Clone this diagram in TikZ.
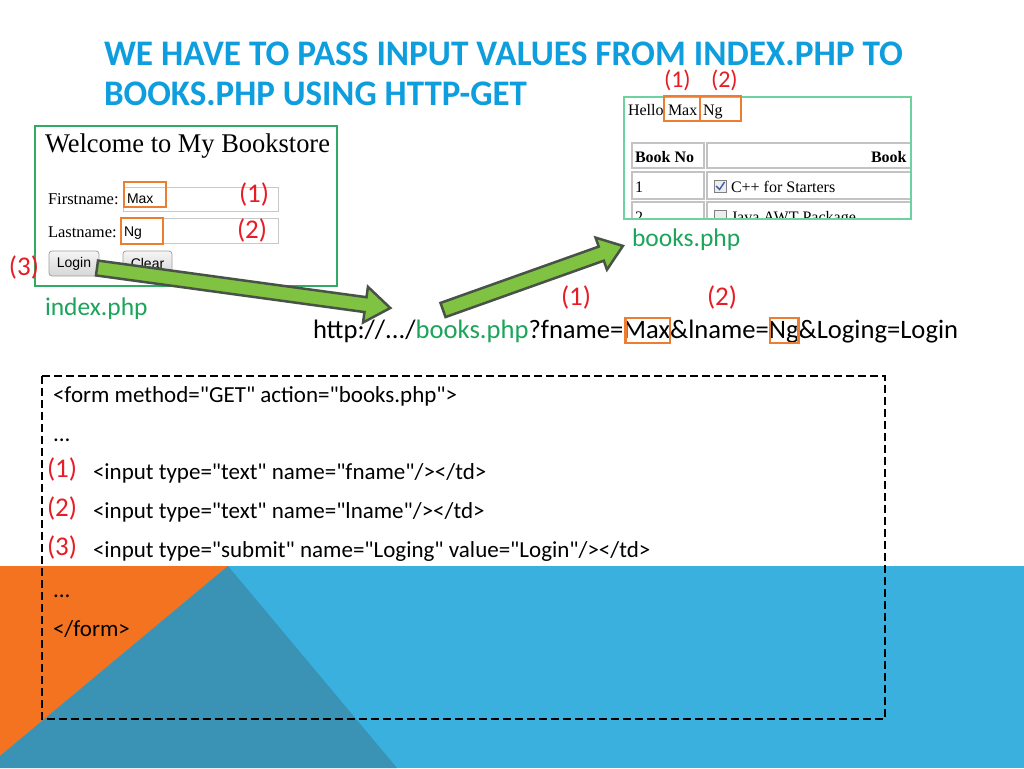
\documentclass[tikz,border=0pt]{standalone}
\usepackage{fontspec}
\setmainfont{Carlito}[Ligatures=TeXOff]
\newfontfamily\serf{Liberation Serif}
\newfontfamily\arialf{Liberation Sans}
\usepackage{graphicx}
\usetikzlibrary{calc}
\definecolor{titleblue}{RGB}{14,158,222}
\definecolor{numred}{RGB}{232,28,36}
\definecolor{hiorange}{RGB}{237,125,49}
\definecolor{filegreen}{RGB}{28,165,90}
\definecolor{scrL}{RGB}{50,170,100}
\definecolor{scrR}{RGB}{110,210,160}
\definecolor{bandblue}{RGB}{58,176,222}
\definecolor{bandorange}{RGB}{244,115,32}
\definecolor{banddark}{RGB}{58,146,180}
\definecolor{arrowfill}{RGB}{128,194,66}
\definecolor{arrowline}{RGB}{72,82,70}
\definecolor{cellgray}{RGB}{195,195,195}
\definecolor{inputgray}{RGB}{200,200,200}
\definecolor{btnline}{RGB}{160,160,160}
\definecolor{checkblue}{RGB}{60,90,170}
\tikzset{
  txt/.style={inner sep=0pt, outer sep=0pt, anchor=base west},
  titletxt/.style={txt, text=titleblue, font=\bfseries\fontsize{36}{36}\selectfont},
  code/.style={txt, font=\fontsize{23}{23}\selectfont},
  urltxt/.style={txt, font=\fontsize{26.6}{26.6}\selectfont},
  num/.style={txt, text=numred, font=\fontsize{27}{27}\selectfont},
  smallnum/.style={txt, text=numred, font=\fontsize{24}{24}\selectfont},
  file/.style={txt, text=filegreen, font=\fontsize{25.5}{25.5}\selectfont},
  sertxt/.style={txt, font=\serf\fontsize{16.5}{16.5}\selectfont},
  sanstxt/.style={txt, font=\arialf\fontsize{14}{14}\selectfont},
  hi/.style={draw=hiorange, line width=2.5pt},
  fatarrow/.style={fill=arrowfill, draw=arrowline, line width=2.5pt, line join=miter},
  cell/.style={draw=cellgray, line width=1.5pt},
  inputbox/.style={draw=inputgray, line width=1pt, fill=white},
  btn/.style={draw=btnline, rounded corners=3pt, top color=white!96!black, bottom color=white!84!black, line width=0.8pt},
  chk/.style={draw=gray, line width=0.8pt, fill=white!93!black},
}
\begin{document}
\begin{tikzpicture}[x=1pt,y=-1pt]
\useasboundingbox (0,0) rectangle (1024,768);
\fill[white] (0,0) rectangle (1024,768);
% background band
\fill[bandblue] (0,566) rectangle (1024,768);
\fill[bandorange] (0,566) -- (228,566) -- (0,756) -- cycle;
\fill[banddark] (228,566) -- (0,756) -- (0,768) -- (397,768) -- cycle;

% title
\node[titletxt] (t1) at (104,66) {\resizebox{799pt}{\height}{WE HAVE TO PASS INPUT VALUES FROM INDEX.PHP TO}};
\node[titletxt] (t2) at (104,105) {\resizebox{423pt}{\height}{BOOKS.PHP USING HTTP-GET}};

% left screenshot
\draw[scrL, line width=1.3pt] (35,126) rectangle (337,286);
\node[txt, font=\serf\fontsize{27}{27}\selectfont] (welcome) at (45,152) {\resizebox{285pt}{\height}{Welcome to My Bookstore}};
\node[sertxt] (fn) at (48,204) {Firstname:};
\node[sertxt] (ln) at (48,237) {Lastname:};
\draw[inputbox] (123,187) rectangle (278,211);
\draw[inputbox] (121,218) rectangle (278,243);
\node[sanstxt] (maxL) at (127,203) {Max};
\node[sanstxt] (ngL) at (124,236) {Ng};
\draw[hi] (124,182) rectangle (166,207);
\draw[hi] (121,218) rectangle (163,244);
\node[num] (n1L) at (239,202) {(1)};
\node[num] (n2L) at (237,238) {(2)};
\draw[btn] (49,251) rectangle (99,276);
\node[sanstxt, anchor=center] (login) at (74,263.5) {Login};
\draw[btn] (123,251) rectangle (172,276);
\node[sanstxt, anchor=center] (clear) at (147.5,263.5) {Clear};
\node[num] (n3L) at (9,275) {(3)};
\node[file] (index) at (45,315) {index.php};

% right screenshot
\begin{scope}
\clip (624,97) rectangle (911,219);
\node[sertxt, font=\serf\fontsize{16}{16}\selectfont] (hello) at (628,115) {Hello};
\node[sertxt, font=\serf\fontsize{16}{16}\selectfont] (maxR) at (668,115) {Max};
\node[sertxt, font=\serf\fontsize{16}{16}\selectfont] (ngR) at (703,115) {Ng};
\draw[cell] (632,143) rectangle (704,168);
\draw[cell] (707,143) rectangle (930,168);
\draw[cell] (632,172) rectangle (704,199);
\draw[cell] (707,172) rectangle (930,199);
\draw[cell] (632,202) rectangle (704,232);
\draw[cell] (707,202) rectangle (930,232);
\node[sertxt, font=\serf\bfseries\fontsize{16}{16}\selectfont] (bookno) at (635,162) {Book\ No};
\node[sertxt, font=\serf\bfseries\fontsize{16}{16}\selectfont] (book) at (871,162) {Book};
\node[sertxt, font=\serf\fontsize{16}{16}\selectfont] (r1) at (635,192) {1};
\draw[chk] (714,180) rectangle (726,192);
\draw[checkblue, line width=1.4pt] (716,186) -- (719.5,189.5) -- (724.5,182);
\node[sertxt, font=\serf\fontsize{16}{16}\selectfont] (c1) at (731,192) {C++ for Starters};
\node[sertxt, font=\serf\fontsize{16}{16}\selectfont] (r2) at (635,222) {2};
\draw[chk] (714,210) rectangle (726,222);
\node[sertxt, font=\serf\fontsize{16}{16}\selectfont] (c2) at (731,222) {Java AWT Package};
\end{scope}
\draw[scrR, line width=1.3pt] (624,97) rectangle (911,219);
\draw[hi] (664,96) rectangle (700,121);
\draw[hi] (700,96) rectangle (741,121);
\node[smallnum] (n1R) at (664,87) {(1)};
\node[smallnum] (n2R) at (711,87) {(2)};
\node[file] (books) at (632,246) {books.php};

% URL
\node[urltxt] (u1) at (313,338) {http://.../};
\node[urltxt, text=filegreen] (u2) at (u1.base east) {books.php};
\node[urltxt] (u3) at (u2.base east) {?fname=};
\node[urltxt] (u4) at (u3.base east) {Max};
\node[urltxt] (u5) at (u4.base east) {\&lname=};
\node[urltxt] (u6) at (u5.base east) {Ng};
\node[urltxt] (u7) at (u6.base east) {\&Loging=Login};
\draw[hi] ($(u4.base west)+(2,5)$) rectangle ($(u4.base east)+(0,-20)$);
\draw[hi] ($(u6.base west)+(1,5)$) rectangle ($(u6.base east)+(0,-20)$);
\node[num] (n1U) at (561,305) {(1)};
\node[num] (n2U) at (707,305) {(2)};

% fat arrows
\begin{scope}[shift={(97,268)}, rotate=-7.77]
\draw[fatarrow] (0,-7.5) -- (271,-7.5) -- (271,-18) -- (296,0) -- (271,18) -- (271,7.5) -- (0,7.5) -- cycle;
\end{scope}
\begin{scope}[shift={(443,310)}, rotate=19.6]
\draw[fatarrow] (0,-7.5) -- (168,-7.5) -- (168,-17) -- (191,0) -- (168,17) -- (168,7.5) -- (0,7.5) -- cycle;
\end{scope}

% code box
\draw[black, line width=2.5pt, dash pattern=on 8pt off 4pt] (42,376) rectangle (885,719);
\node[code] (l1) at (53,402) {<form method="GET" action="books.php">};
\node[code] (l2) at (53,441) {...};
\node[num] (c1n) at (47,477) {(1)};
\node[code] (l3) at (93,479) {<input type="text" name="fname"/></td>};
\node[num] (c2n) at (47,516) {(2)};
\node[code] (l4) at (93,518) {<input type="text" name="lname"/></td>};
\node[num] (c3n) at (47,555) {(3)};
\node[code] (l5) at (93,557) {<input type="submit" name="Loging" value="Login"/></td>};
\node[code] (l6) at (53,597) {...};
\node[code] (l7) at (53,636) {</form>};
\end{tikzpicture}
\end{document}
